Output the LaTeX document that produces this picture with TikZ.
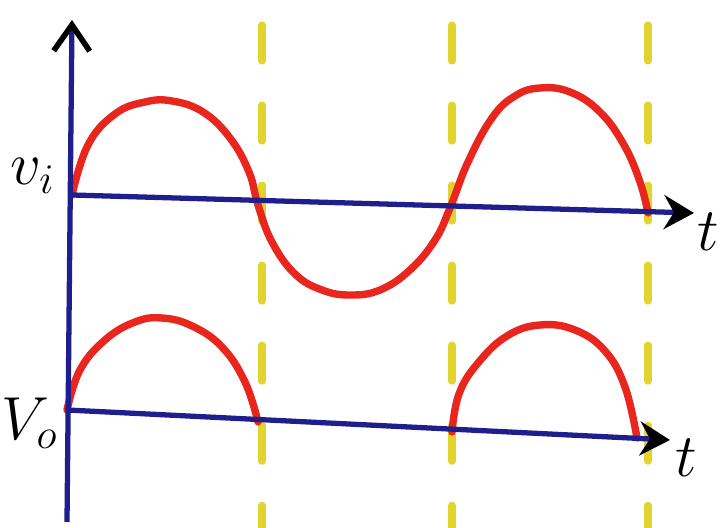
\documentclass[tikz,border=0pt]{standalone}
\usetikzlibrary{arrows.meta, calc}
\definecolor{InkBlue}{HTML}{1E1E8C}
\definecolor{WaveRed}{HTML}{E8261E}
\definecolor{MarkerYellow}{HTML}{E2D42C}
\tikzset{
  axisline/.style={draw=InkBlue, line width=1.5pt},
  vtip/.style={-{Straight Barb[length=2.6mm, width=3.6mm, line width=1.6pt, color=black]}},
  htip/.style={-{Stealth[length=3.0mm, width=3.4mm, inset=1mm, color=black]}},
  wave/.style={draw=WaveRed, line width=2.1pt, line cap=round},
  guide/.style={draw=MarkerYellow, line width=2pt, line cap=round, dash pattern=on 0.36cm off 0.44cm},
  axlabel/.style={font=\LARGE, inner sep=0pt}
}

\begin{document}
\begin{tikzpicture}[x=0.01cm, y=-0.01cm]
\useasboundingbox (0,0) rectangle (723,528);

% axes corners
\coordinate (top) at (72,20);
\coordinate (bottom) at (67,522);
\coordinate (Oi) at (72,195);
\coordinate (ti) at (694,213);
\coordinate (Oo) at (67,410);
\coordinate (to) at (670,440);

% dashed guides
\foreach \gx in {262,452,648}
  \draw[guide] (\gx,25) -- (\gx,528);

% input wave
\draw[wave] plot[smooth, tension=0.7] coordinates {(72,195) (88,145) (115,114) (145,102) (172,101) (203,112) (230,138) (249,172) (258,205) (272,242) (295,274) (322,290) (350,295) (380,290) (410,270) (435,240) (450,208) (468,162) (492,118) (515,96) (540,88) (570,92) (600,112) (624,145) (640,182) (648,213)};

% output wave
\draw[wave] plot[smooth, tension=0.7] coordinates {(67,410) (80,370) (105,340) (135,322) (162,318) (192,326) (222,347) (245,382) (258,422)};
\draw[wave] plot[smooth, tension=0.7] coordinates {(452,432) (459,394) (478,363) (507,336) (540,325) (575,330) (605,351) (625,387) (637,438)};

% axes
\draw[axisline, vtip] (bottom) -- (top);
\draw[axisline, htip] (Oi) -- (ti);
\draw[axisline, htip] (Oo) -- (to);

\node[axlabel] (vi) at (33,176) {$v_i$};
\node[axlabel] (vo) at (30,423) {$V_o$};
\node[axlabel] (t1) at (708,232) {$t$};
\node[axlabel] (t2) at (686,458) {$t$};
\end{tikzpicture}
\end{document}
